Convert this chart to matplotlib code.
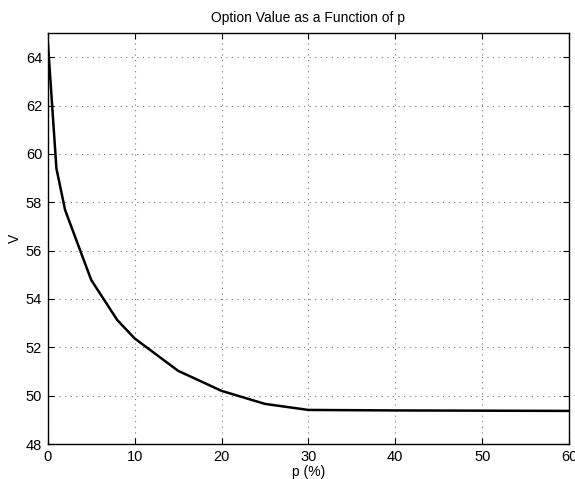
import numpy as np
import matplotlib.pyplot as plt

plt.rcParams['font.family'] = ['Liberation Sans', 'DejaVu Sans']

p = [0, 1, 2, 5, 8, 10, 15, 20, 25, 30, 40, 50, 60]
V = [64.7, 59.4, 57.68, 54.79, 53.13, 52.37, 51.03, 50.2, 49.66, 49.41, 49.39, 49.38, 49.37]

fig = plt.figure(figsize=(5.75, 4.79), dpi=100)
ax = fig.add_axes([0.083, 0.073, 0.9067, 0.858])
ax.plot(p, V, color='black', lw=1.8)
ax.set_xlim(0, 60)
ax.set_ylim(48, 65)
ax.set_xticks(np.arange(0, 61, 10))
ax.set_yticks(np.arange(48, 65, 2))
ax.grid(True, linestyle=(0, (1, 4)), color='#777777', lw=0.8)
ax.tick_params(direction='in', top=True, right=True, labelsize=10.5, length=4, pad=4)
for s in ax.spines.values():
    s.set_linewidth(1.0)
ax.set_xlabel('p (%)', fontsize=10, labelpad=1)
ax.set_ylabel('V', fontsize=10, labelpad=3)
ax.set_title('Option Value as a Function of p', fontsize=10, pad=8)
fig.savefig('out.png', dpi=100)
